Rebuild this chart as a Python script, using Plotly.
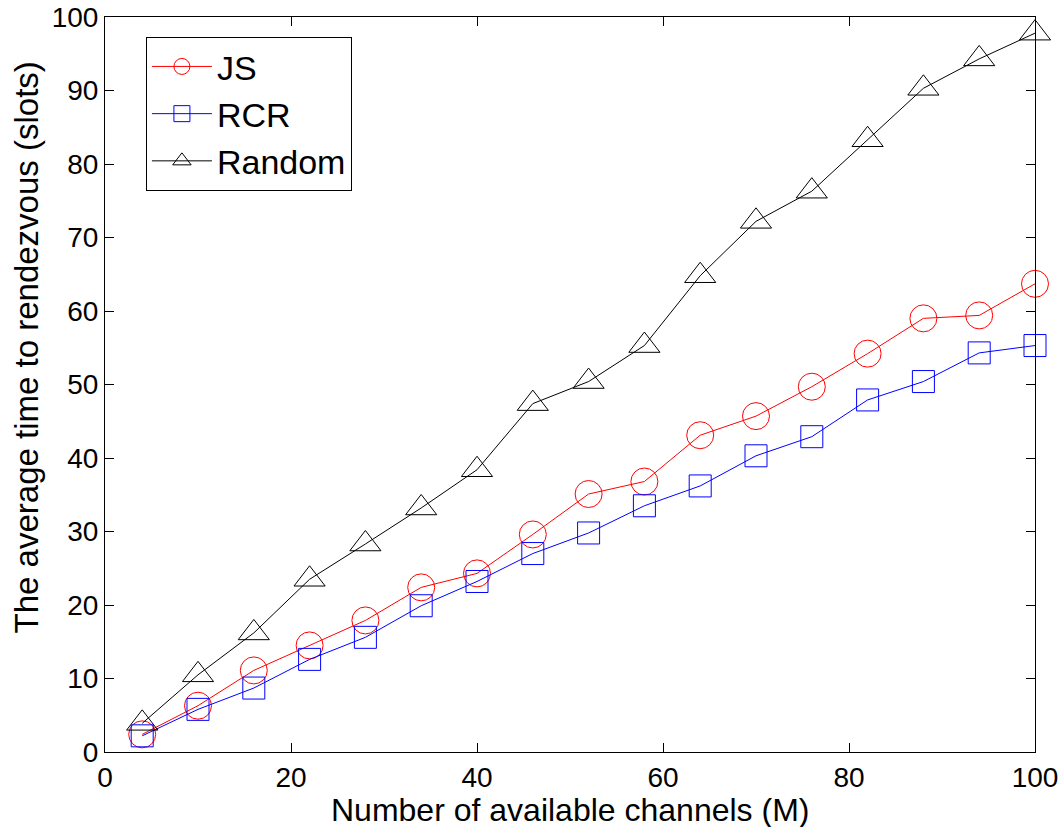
import plotly.graph_objects as go

channels = [4, 10, 16, 22, 28, 34, 40, 46, 52, 58, 64, 70, 76, 82, 88, 94, 100]
js = [2.4, 6.3, 11.1, 14.5, 17.9, 22.4, 24.3, 29.6, 35.1, 36.8, 43.1, 45.7, 49.7, 54.2, 59.0, 59.4, 63.7]
rcr = [2.2, 5.8, 8.7, 12.6, 15.6, 19.9, 23.2, 27.0, 29.8, 33.5, 36.2, 40.3, 42.9, 47.9, 50.4, 54.3, 55.3]
rnd = [3.9, 10.5, 16.2, 23.5, 28.3, 33.2, 38.4, 47.4, 50.4, 55.3, 64.8, 72.2, 76.3, 83.3, 90.3, 94.3, 97.8]

x_title = "Number of available channels (M)"
y_title = "The average time to rendezvous (slots)"

series = [
    ("JS", js, "#ff0000", "circle-open", 27),
    ("RCR", rcr, "#0000ff", "square-open", 22),
    ("Random", rnd, "#000000", "triangle-up-open", 27),
]

font = "Liberation Sans, Arial, Helvetica, sans-serif"
fig = go.Figure()
for name, ys, col, sym, sz in series:
    fig.add_trace(go.Scatter(
        x=channels, y=ys, name=name, mode="lines+markers",
        line=dict(color=col, width=1),
        marker=dict(symbol=sym, size=sz, color=col, line=dict(color=col, width=1)),
        cliponaxis=False,
    ))

axis_common = dict(
    showline=True, linecolor="black", linewidth=1, mirror="ticks",
    ticks="inside", ticklen=9, tickcolor="black", tickwidth=1,
    showgrid=False, zeroline=False, automargin=False,
    tickfont=dict(family=font, size=28, color="black"),
)
fig.update_xaxes(range=[0, 100], tickvals=[0, 20, 40, 60, 80, 100], **axis_common)
fig.update_yaxes(range=[0, 100], tickvals=list(range(0, 101, 10)), **axis_common)

fig.update_layout(
    width=1063, height=827,
    margin=dict(l=105, r=28, t=17, b=75),
    paper_bgcolor="white", plot_bgcolor="white",
    showlegend=True,
    legend=dict(x=0.044, y=0.973, xanchor="left", yanchor="top",
                bordercolor="black", borderwidth=1, bgcolor="white",
                font=dict(family=font, size=34, color="black"),
                itemwidth=60, tracegroupgap=0),
    annotations=[
        dict(text=x_title, xref="paper", yref="paper", x=0.5, y=-0.0785,
             xanchor="center", yanchor="middle", showarrow=False,
             font=dict(family=font, size=32, color="black")),
        dict(text=y_title, xref="paper", yref="paper", x=-0.0842, y=0.55,
             xanchor="center", yanchor="middle", showarrow=False, textangle=-90,
             font=dict(family=font, size=33, color="black")),
    ],
)

fig.write_html("out.html")
